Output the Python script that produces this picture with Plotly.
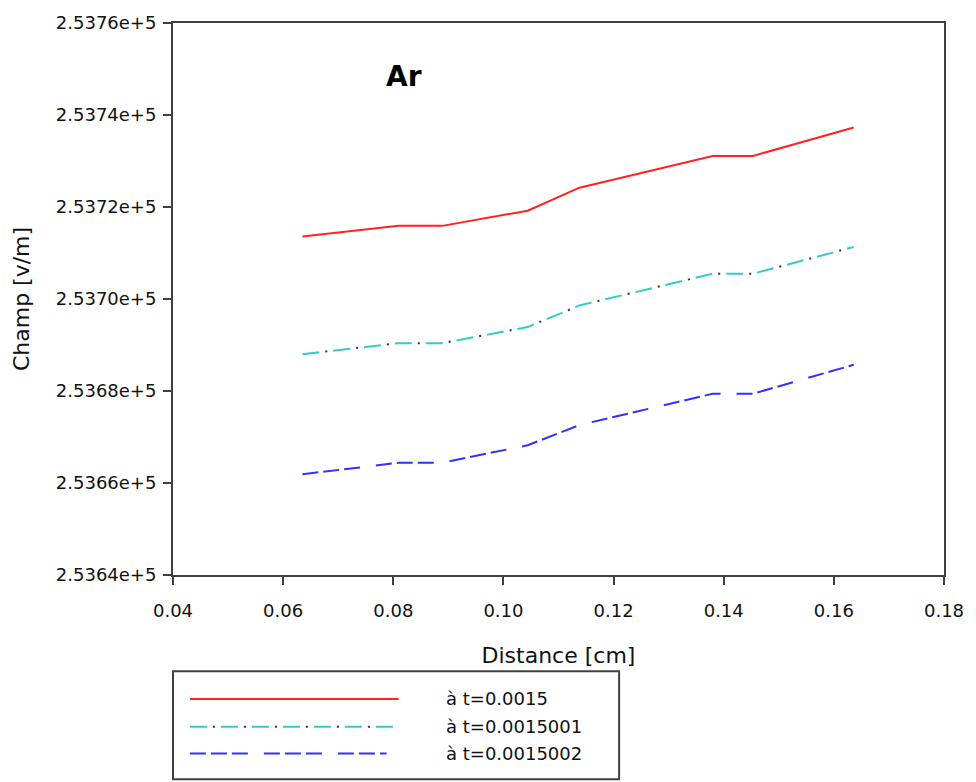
import plotly.graph_objects as go

# Electric field along the discharge gap (argon) at three successive instants
distance_cm = [0.0635, 0.0810, 0.0889, 0.1044, 0.1138, 0.1380, 0.1453, 0.1636]
champ_t0 = [253713.6, 253715.9, 253715.9, 253719.2, 253724.2, 253731.1, 253731.1, 253737.3]
champ_t1 = [253688.0, 253690.4, 253690.4, 253693.9, 253698.6, 253705.5, 253705.5, 253711.3]
champ_t2 = [253661.9, 253664.4, 253664.4, 253668.2, 253672.6, 253679.4, 253679.4, 253685.7]

series_labels = ["à t=0.0015", "à t=0.0015001", "à t=0.0015002"]

y_ticks = [253640, 253660, 253680, 253700, 253720, 253740, 253760]
x_ticks = [0.04, 0.06, 0.08, 0.10, 0.12, 0.14, 0.16, 0.18]

RED = "#ff2222"
CYAN = "#30cccc"
BLUE = "#3030ff"
DOTS = "#333333"
AXIS = "#404040"
FONT = "DejaVu Sans"

# cyan dash with a dark dot sitting in each gap (same period, kept in phase)
CYAN_DASH = "17px,14px"
DOT_DASH = "0px,23px,2px,6px"
BLUE_DASH = "16px,5px,16px,5px,16px,16px"

fig = go.Figure()
fig.add_trace(go.Scatter(x=distance_cm, y=champ_t0, mode="lines", name=series_labels[0],
                         line=dict(color=RED, width=2), showlegend=False))
fig.add_trace(go.Scatter(x=distance_cm, y=champ_t1, mode="lines", name=series_labels[1],
                         line=dict(color=CYAN, width=2, dash=CYAN_DASH), showlegend=False))
fig.add_trace(go.Scatter(x=distance_cm, y=champ_t1, mode="lines", hoverinfo="skip",
                         line=dict(color=DOTS, width=2, dash=DOT_DASH), showlegend=False))
fig.add_trace(go.Scatter(x=distance_cm, y=champ_t2, mode="lines", name=series_labels[2],
                         line=dict(color=BLUE, width=2, dash=BLUE_DASH), showlegend=False))

# plot-area geometry in pixels, used to place the boxed key below the axes
L, R, T, B = 173, 949, 18, 575
W, H = R - L, B - T


def px(xp):
    return (xp - L) / W


def py(yp):
    return (B - yp) / H


shapes = [dict(type="rect", xref="paper", yref="paper",
               x0=px(173), x1=px(622), y0=py(672), y1=py(781),
               line=dict(color=AXIS, width=2), fillcolor="white", layer="above")]
key_rows = [(700, RED, "solid", 400), (728, CYAN, CYAN_DASH, 398), (755, BLUE, BLUE_DASH, 388)]
for yp, col, dash, x_end in key_rows:
    shapes.append(dict(type="line", xref="paper", yref="paper",
                       x0=px(190), x1=px(x_end), y0=py(yp), y1=py(yp),
                       line=dict(color=col, width=2, dash=dash)))
shapes.append(dict(type="line", xref="paper", yref="paper",
                   x0=px(190), x1=px(398), y0=py(728), y1=py(728),
                   line=dict(color=DOTS, width=2, dash=DOT_DASH)))

annotations = [dict(text="<b>Ar</b>", xref="paper", yref="paper", x=px(406), y=py(72),
                    xanchor="center", yanchor="middle", showarrow=False,
                    font=dict(family=FONT, size=28, color="black"))]
for (yp, _, _, _), label in zip(key_rows, series_labels):
    annotations.append(dict(text=label, xref="paper", yref="paper", x=px(446), y=py(yp),
                            xanchor="left", yanchor="middle", showarrow=False,
                            font=dict(family=FONT, size=18, color="#111111")))

fig.update_layout(
    width=976, height=782,
    margin=dict(l=L, r=976 - R, t=T, b=782 - B),
    paper_bgcolor="white", plot_bgcolor="white",
    font=dict(family=FONT, size=18, color="#111111"),
    shapes=shapes, annotations=annotations,
    xaxis=dict(range=[0.04, 0.18], tickvals=x_ticks, ticktext=[f"{v:.2f}" for v in x_ticks],
               ticks="outside", ticklen=8, tickwidth=2, tickcolor=AXIS,
               showline=True, linecolor=AXIS, linewidth=2, mirror=True,
               showgrid=False, zeroline=False, ticklabelstandoff=10,
               title=dict(text="Distance [cm]", font=dict(size=22), standoff=28)),
    yaxis=dict(range=[253640, 253760], tickvals=y_ticks,
               ticktext=[f"{v / 1e5:.4f}e+5" for v in y_ticks],
               ticks="outside", ticklen=8, tickwidth=2, tickcolor=AXIS,
               showline=True, linecolor=AXIS, linewidth=2, mirror=True,
               showgrid=False, zeroline=False, ticklabelstandoff=3,
               title=dict(text="Champ [v/m]", font=dict(size=22), standoff=20)),
)

fig.write_html("out.html")
